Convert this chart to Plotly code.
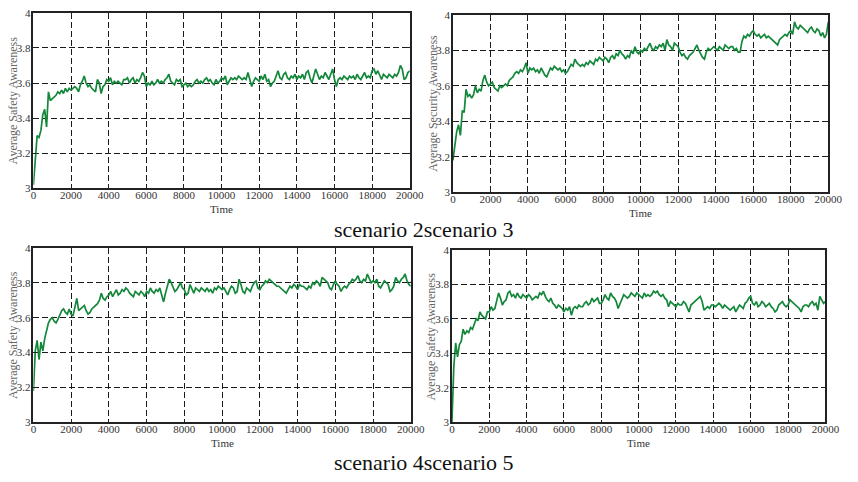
import plotly.graph_objects as go

# Sampling grid of the simulation (one reading every 100 time steps)
TIME_STEP = 100
time = list(range(0, 20001, TIME_STEP))

scenario2 = [
    3.02, 3.19, 3.30, 3.29, 3.33, 3.42, 3.45, 3.35, 3.55, 3.50,
    3.51, 3.52, 3.53, 3.55, 3.54, 3.56, 3.54, 3.57, 3.55, 3.57,
    3.56, 3.57, 3.58, 3.57, 3.55, 3.59, 3.61, 3.64, 3.60, 3.58,
    3.59, 3.57, 3.56, 3.55, 3.62, 3.60, 3.54, 3.58, 3.59, 3.62,
    3.61, 3.63, 3.59, 3.61, 3.60, 3.61, 3.60, 3.59, 3.62, 3.62,
    3.63, 3.60, 3.62, 3.63, 3.60, 3.62, 3.61, 3.63, 3.66, 3.64,
    3.58, 3.60, 3.59, 3.61, 3.59, 3.60, 3.62, 3.60, 3.61, 3.60,
    3.62, 3.63, 3.65, 3.61, 3.60, 3.59, 3.62, 3.61, 3.62, 3.58,
    3.59, 3.60, 3.58, 3.59, 3.58, 3.59, 3.61, 3.62, 3.60, 3.61,
    3.60, 3.62, 3.63, 3.61, 3.62, 3.60, 3.59, 3.62, 3.60, 3.61,
    3.63, 3.62, 3.64, 3.59, 3.61, 3.63, 3.62, 3.63, 3.62, 3.64,
    3.63, 3.62, 3.63, 3.62, 3.66, 3.62, 3.58, 3.61, 3.63, 3.62,
    3.61, 3.64, 3.62, 3.65, 3.61, 3.62, 3.58, 3.60, 3.61, 3.64,
    3.67, 3.63, 3.62, 3.65, 3.66, 3.63, 3.62, 3.64, 3.63, 3.65,
    3.62, 3.64, 3.63, 3.65, 3.62, 3.66, 3.67, 3.63, 3.60, 3.64,
    3.68, 3.65, 3.62, 3.64, 3.63, 3.66, 3.64, 3.62, 3.65, 3.68,
    3.62, 3.58, 3.62, 3.63, 3.62, 3.64, 3.63, 3.62, 3.64, 3.63,
    3.64, 3.62, 3.65, 3.63, 3.62, 3.64, 3.66, 3.63, 3.64, 3.63,
    3.67, 3.68, 3.65, 3.67, 3.64, 3.62, 3.65, 3.64, 3.63, 3.65,
    3.64, 3.63, 3.65, 3.64, 3.66, 3.70, 3.68, 3.62, 3.63, 3.66,
    3.67,
]

scenario3 = [
    3.18, 3.27, 3.34, 3.38, 3.32, 3.46, 3.45, 3.58, 3.54, 3.55,
    3.53, 3.55, 3.60, 3.56, 3.58, 3.57, 3.63, 3.66, 3.62, 3.60,
    3.61, 3.62, 3.59, 3.58, 3.57, 3.60, 3.59, 3.60, 3.61, 3.60,
    3.63, 3.64, 3.65, 3.67, 3.68, 3.67, 3.69, 3.68, 3.70, 3.73,
    3.67, 3.70, 3.69, 3.70, 3.68, 3.69, 3.67, 3.70, 3.68, 3.66,
    3.65, 3.68, 3.70, 3.69, 3.71, 3.70, 3.69, 3.70, 3.68, 3.69,
    3.67, 3.68, 3.70, 3.72, 3.71, 3.75, 3.73, 3.72, 3.71, 3.72,
    3.71, 3.73, 3.72, 3.74, 3.73, 3.72, 3.75, 3.74, 3.76, 3.75,
    3.74, 3.76, 3.75, 3.73, 3.76, 3.77, 3.75, 3.78, 3.77, 3.80,
    3.78, 3.77, 3.75, 3.77, 3.76, 3.80, 3.78, 3.82, 3.79, 3.78,
    3.80, 3.79, 3.81, 3.80, 3.82, 3.84, 3.81, 3.80, 3.82, 3.81,
    3.83, 3.82, 3.84, 3.80, 3.86, 3.83, 3.82, 3.80, 3.84, 3.83,
    3.82, 3.79, 3.77, 3.78, 3.76, 3.75, 3.77, 3.78, 3.79, 3.81,
    3.83, 3.80, 3.78, 3.76, 3.75, 3.79, 3.81, 3.80, 3.81, 3.82,
    3.81, 3.80, 3.82, 3.81, 3.80, 3.83, 3.82, 3.81, 3.82, 3.82,
    3.80, 3.81, 3.79, 3.79, 3.85, 3.88, 3.87, 3.89, 3.88, 3.90,
    3.91, 3.89, 3.88, 3.89, 3.87, 3.88, 3.89, 3.87, 3.88, 3.87,
    3.86, 3.85, 3.84, 3.83, 3.86, 3.87, 3.88, 3.89, 3.88, 3.90,
    3.91, 3.89, 3.96, 3.93, 3.92, 3.94, 3.93, 3.92, 3.91, 3.90,
    3.92, 3.93, 3.91, 3.90, 3.92, 3.91, 3.88, 3.90, 3.87, 3.89,
    3.96,
]

scenario4 = [
    3.18, 3.41, 3.47, 3.36, 3.46, 3.41, 3.48, 3.53, 3.57, 3.59,
    3.60, 3.58, 3.57, 3.59, 3.62, 3.64, 3.65, 3.63, 3.62, 3.65,
    3.62, 3.61, 3.66, 3.71, 3.64, 3.65, 3.66, 3.67, 3.64, 3.62,
    3.63, 3.65, 3.66, 3.67, 3.68, 3.70, 3.74, 3.71, 3.70, 3.72,
    3.73, 3.75, 3.72, 3.74, 3.76, 3.73, 3.74, 3.76, 3.75, 3.77,
    3.76, 3.74, 3.73, 3.72, 3.75, 3.74, 3.73, 3.75, 3.74, 3.72,
    3.75, 3.74, 3.77, 3.75, 3.74, 3.76, 3.75, 3.77, 3.72, 3.69,
    3.74, 3.78, 3.82, 3.80, 3.77, 3.75, 3.76, 3.78, 3.80, 3.77,
    3.76, 3.73, 3.74, 3.79, 3.76, 3.74, 3.77, 3.76, 3.75, 3.77,
    3.76, 3.75, 3.77, 3.75, 3.76, 3.74, 3.77, 3.76, 3.78, 3.77,
    3.76, 3.77, 3.75, 3.73, 3.76, 3.78, 3.77, 3.74, 3.75, 3.82,
    3.79, 3.75, 3.74, 3.77, 3.76, 3.75, 3.78, 3.80, 3.81, 3.77,
    3.76, 3.78, 3.79, 3.81, 3.80, 3.82, 3.81, 3.80, 3.79, 3.78,
    3.78, 3.77, 3.76, 3.75, 3.74, 3.76, 3.78, 3.77, 3.79, 3.78,
    3.76, 3.79, 3.78, 3.78, 3.77, 3.76, 3.78, 3.77, 3.80, 3.79,
    3.81, 3.80, 3.78, 3.83, 3.82, 3.81, 3.80, 3.77, 3.76, 3.79,
    3.81, 3.79, 3.78, 3.75, 3.77, 3.78, 3.77, 3.79, 3.80, 3.82,
    3.81, 3.82, 3.84, 3.81, 3.80, 3.82, 3.81, 3.85, 3.82, 3.80,
    3.81, 3.80, 3.82, 3.78, 3.77, 3.79, 3.81, 3.80, 3.79, 3.75,
    3.76, 3.78, 3.83, 3.81, 3.80, 3.82, 3.83, 3.85, 3.81, 3.79,
    3.78,
]

scenario5 = [
    3.00, 3.32, 3.46, 3.38, 3.45, 3.47, 3.54, 3.51, 3.53, 3.52,
    3.55, 3.54, 3.57, 3.60, 3.59, 3.64, 3.62, 3.61, 3.60, 3.64,
    3.64, 3.67, 3.65, 3.66, 3.70, 3.75, 3.72, 3.68, 3.70, 3.71,
    3.75, 3.76, 3.73, 3.74, 3.72, 3.75, 3.73, 3.72, 3.74, 3.73,
    3.72, 3.74, 3.73, 3.71, 3.72, 3.73, 3.72, 3.75, 3.74, 3.76,
    3.73, 3.71, 3.70, 3.72, 3.69, 3.68, 3.66, 3.68, 3.67, 3.66,
    3.64, 3.66, 3.65, 3.67, 3.62, 3.66, 3.67, 3.66, 3.68, 3.67,
    3.67, 3.69, 3.70, 3.68, 3.69, 3.72, 3.70, 3.71, 3.72, 3.69,
    3.69, 3.71, 3.74, 3.72, 3.71, 3.75, 3.73, 3.72, 3.70, 3.66,
    3.69, 3.72, 3.74, 3.73, 3.72, 3.73, 3.75, 3.74, 3.73, 3.75,
    3.74, 3.73, 3.72, 3.75, 3.73, 3.74, 3.73, 3.74, 3.76, 3.75,
    3.76, 3.74, 3.73, 3.74, 3.72, 3.71, 3.67, 3.70, 3.69, 3.68,
    3.67, 3.69, 3.68, 3.68, 3.70, 3.69, 3.66, 3.64, 3.68, 3.69,
    3.70, 3.71, 3.72, 3.73, 3.70, 3.65, 3.66, 3.67, 3.66, 3.68,
    3.68, 3.67, 3.68, 3.69, 3.68, 3.66, 3.68, 3.67, 3.66, 3.65,
    3.66, 3.67, 3.64, 3.66, 3.68, 3.67, 3.66, 3.69, 3.70, 3.72,
    3.73, 3.69, 3.68, 3.70, 3.67, 3.68, 3.70, 3.69, 3.67, 3.68,
    3.69, 3.67, 3.66, 3.64, 3.65, 3.68, 3.69, 3.70, 3.68, 3.67,
    3.68, 3.71, 3.70, 3.69, 3.68, 3.67, 3.66, 3.64, 3.67, 3.68,
    3.68, 3.67, 3.69, 3.70, 3.68, 3.69, 3.65, 3.73, 3.71, 3.69,
    3.70,
]

y_titles = [
    "Average Safety Awareness",
    "Average Security Awareness",
    "Average Safety Awareness",
    "Average Safety Awareness",
]
series = [scenario2, scenario3, scenario4, scenario5]
row_titles = ["scenario 2scenario 3", "scenario 4scenario 5"]

x_ticks = list(range(0, 20001, 2000))
y_ticks = [3, 3.2, 3.4, 3.6, 3.8, 4]

W, H = 858, 482
LINE_GREEN = "#13873a"
SERIF = "Liberation Serif, Times New Roman, serif"

# Plot-area boxes in pixels: (left, top, right, bottom)
boxes = [
    (31, 7, 415, 187),
    (459, 9, 842, 191),
    (31, 248, 416, 427),
    (458, 250, 839, 427),
]


def paper_label(text, px, py, size, color, angle=0):
    """Text centred on a pixel position of the page."""
    return dict(
        text=text, textangle=angle,
        x=px / W, y=1 - py / H,
        xref="paper", yref="paper",
        xanchor="center", yanchor="middle",
        showarrow=False,
        font=dict(family=SERIF, size=size, color=color),
    )


fig = go.Figure()
layout = dict(
    width=W, height=H,
    margin=dict(l=0, r=0, t=0, b=0),
    paper_bgcolor="white",
    plot_bgcolor="white",
    showlegend=False,
    font=dict(family=SERIF, size=11, color="#333"),
)

annotations = []
for i, (vals, (l, t, r, b), ytitle) in enumerate(zip(series, boxes, y_titles)):
    n = "" if i == 0 else str(i + 1)
    fig.add_trace(go.Scatter(
        x=time, y=vals, mode="lines",
        line=dict(color=LINE_GREEN, width=1.7),
        xaxis="x" + n, yaxis="y" + n,
        hoverinfo="skip",
    ))
    common = dict(
        showgrid=True, gridcolor="#1a1a1a", gridwidth=1, griddash="6px,3px",
        showline=True, linecolor="#222", linewidth=1.5, mirror="ticks",
        ticks="inside", ticklen=3, tickcolor="#222",
        zeroline=False,
        tickfont=dict(family=SERIF, size=11, color="#333"),
    )
    layout["xaxis" + n] = dict(
        common,
        domain=[l / W, r / W],
        anchor="y" + n,
        range=[0, 20000],
        tickvals=x_ticks,
        tickformat="d",
        ticklabelstandoff=-4,
    )
    layout["yaxis" + n] = dict(
        common,
        domain=[1 - b / H, 1 - t / H],
        anchor="x" + n,
        range=[3, 4],
        tickvals=y_ticks,
        ticktext=[f"{v:g}" for v in y_ticks],
        ticklabelstandoff=-1,
    )
    annotations.append(paper_label(ytitle, l - 21, (t + b) / 2, 12, "#666", -90))
    annotations.append(paper_label("Time", (l + r) / 2, b + 21, 11, "#333"))

for txt, yc in zip(row_titles, [229, 468]):
    annotations.append(paper_label(txt, 430, yc, 22, "#111"))

layout["annotations"] = annotations
fig.update_layout(**layout)
fig.write_html("out.html")
